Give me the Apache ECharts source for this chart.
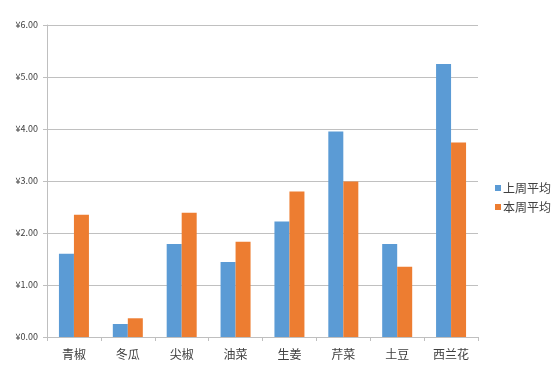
<!DOCTYPE html>
<html>
<head>
<meta charset="utf-8">
<script src="https://cdn.jsdelivr.net/npm/echarts@6/dist/echarts.min.js"></script>
<style>html,body{margin:0;padding:0;background:#fff;}#c{width:558px;height:369px;}</style>
</head>
<body>
<div id="c"></div>
<script>
const categories = ['青椒','冬瓜','尖椒','油菜','生姜','芹菜','土豆','西兰花'];
const lastWeek = [1.60, 0.25, 1.79, 1.44, 2.22, 3.95, 1.79, 5.25];
const thisWeek = [2.35, 0.36, 2.39, 1.83, 2.80, 2.99, 1.35, 3.74];
const seriesNames = ['上周平均','本周平均'];
const yTicks = {min: 0, max: 6, interval: 1};

const font = '"Noto Sans CJK SC", "Microsoft YaHei", sans-serif';
const chart = echarts.init(document.getElementById('c'));
chart.setOption({
  animation: false,
  backgroundColor: '#fff',
  textStyle: {fontFamily: font},
  grid: {left: 47, right: 80, top: 25, bottom: 32, containLabel: false},
  legend: {
    orient: 'vertical', left: 490, top: 176,
    icon: 'rect', itemWidth: 6, itemHeight: 6, itemGap: 5,
    textStyle: {fontSize: 12, color: '#404040', fontFamily: font, lineHeight: 14, padding: [0,0,0,-3]},
    data: seriesNames
  },
  xAxis: {
    type: 'category', data: categories,
    axisLine: {lineStyle: {color: '#bfbfbf', width: 1}},
    axisTick: {show: true, length: 4, lineStyle: {color: '#bfbfbf'}},
    axisLabel: {fontSize: 12, color: '#404040', margin: 11, fontFamily: font}
  },
  yAxis: {
    type: 'value', min: yTicks.min, max: yTicks.max, interval: yTicks.interval,
    axisLine: {show: true, lineStyle: {color: '#bfbfbf'}},
    axisTick: {show: true, length: 4, lineStyle: {color: '#bfbfbf'}},
    splitLine: {lineStyle: {color: '#c0c0c0', width: 1}},
    axisLabel: {fontSize: 9, color: '#404040', margin: 9, fontFamily: font,
      formatter: v => '¥' + v.toFixed(2)}
  },
  series: [
    {name: seriesNames[0], type: 'bar', data: lastWeek, barWidth: 15, barGap: '0%',
     itemStyle: {color: '#5B9BD5'}},
    {name: seriesNames[1], type: 'bar', data: thisWeek, barWidth: 15, barGap: '0%',
     itemStyle: {color: '#ED7D31'}}
  ]
});
</script>
</body>
</html>
